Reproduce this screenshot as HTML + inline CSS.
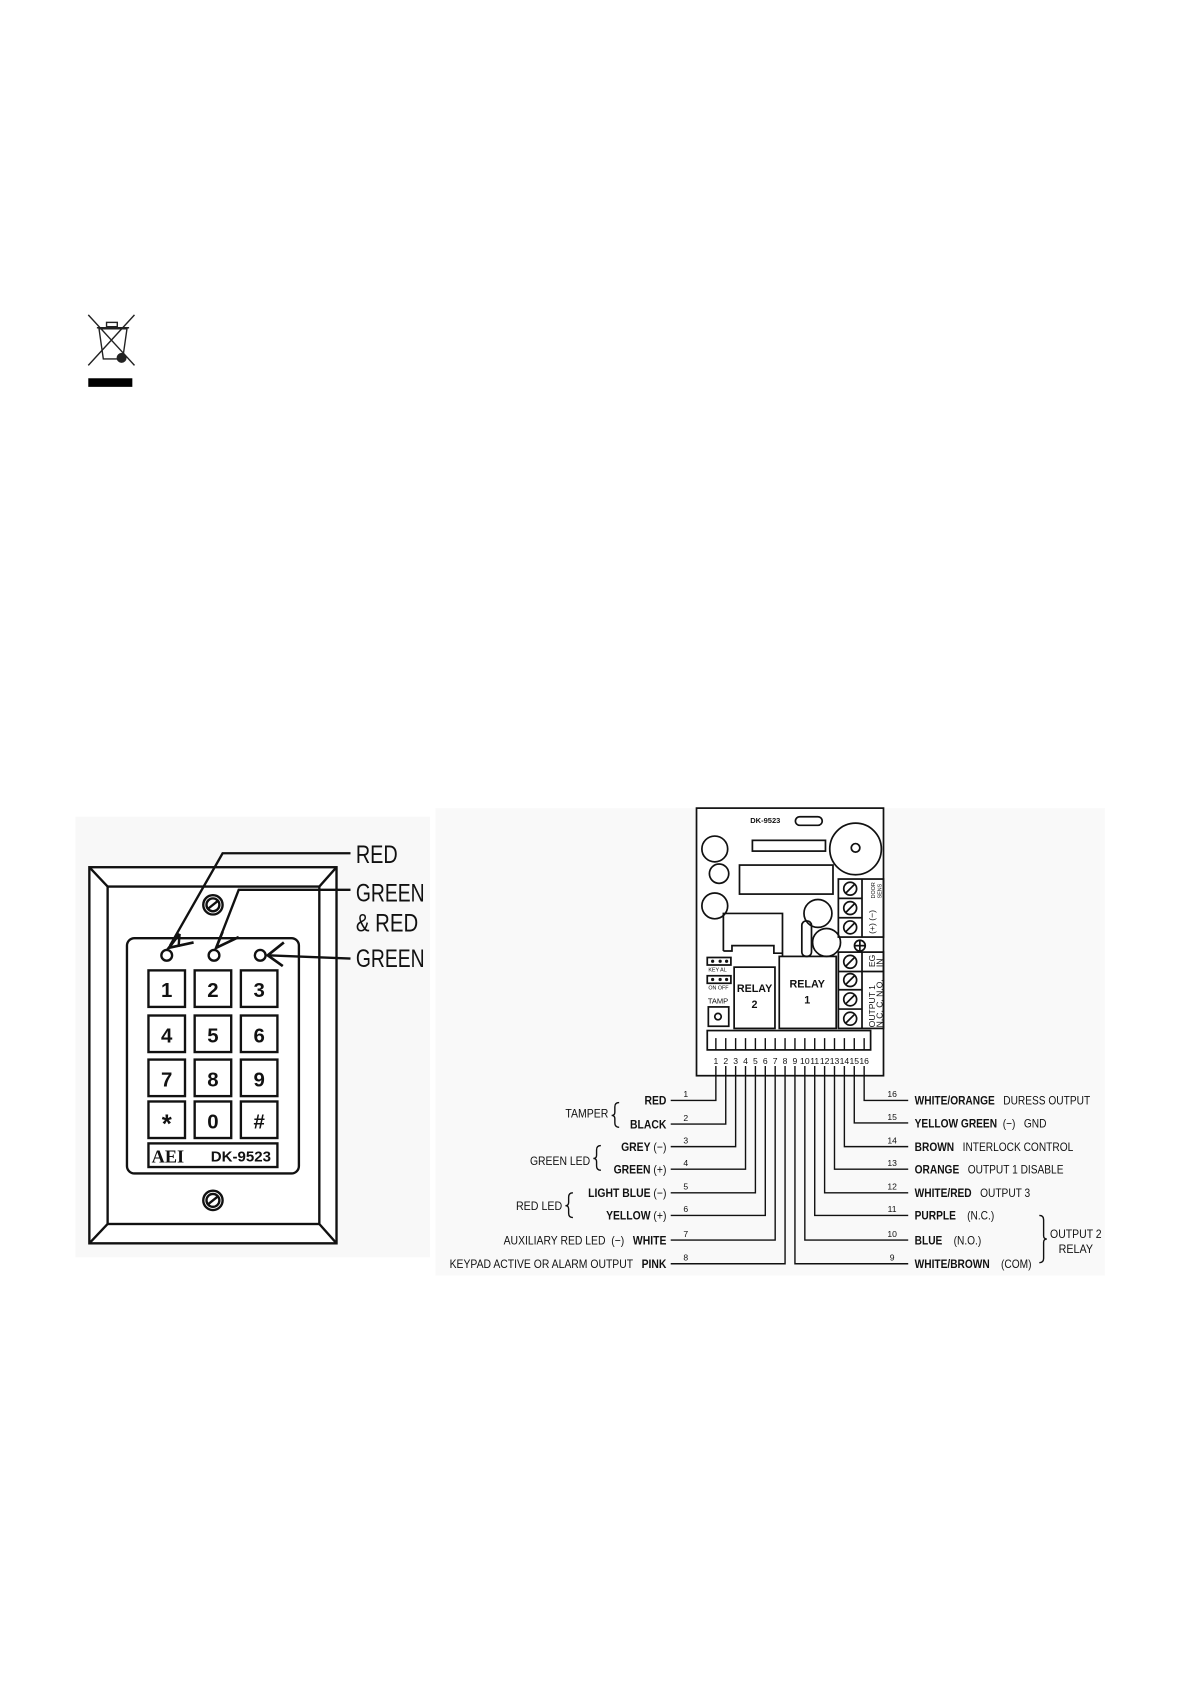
<!DOCTYPE html>
<html><head><meta charset="utf-8"><style>
html,body{margin:0;padding:0;background:#fff}
svg{display:block}
text{font-family:"Liberation Sans",sans-serif;fill:#111}
</style></head><body>
<svg width="1191" height="1685" viewBox="0 0 1108 1568" xmlns="http://www.w3.org/2000/svg">
<rect width="1108" height="1568" fill="#fff"/>
<!-- WEEE icon -->
<g stroke="#222" stroke-width="1.3" fill="none">
<line x1="82" y1="293" x2="125" y2="340"/><line x1="125" y1="293" x2="82" y2="340"/>
<path d="M92 306 L96 334 L114 334 L118 306 Z"/><line x1="90" y1="305" x2="120" y2="305"/>
<rect x="99" y="300" width="10" height="4"/>
<circle cx="113" cy="333" r="4" fill="#222"/>
</g>
<rect x="82" y="352" width="41" height="8" fill="#000"/>
<!-- keypad -->
<rect x="70" y="760" width="330" height="410" fill="#f8f8f8"/>
<g stroke="#111" stroke-width="2.2" fill="none">
<rect x="83" y="807" width="230" height="350" fill="#fff"/>
<rect x="100" y="825" width="197" height="314"/>
<line x1="83" y1="807" x2="100" y2="825"/><line x1="313" y1="807" x2="297" y2="825"/>
<line x1="83" y1="1157" x2="100" y2="1139"/><line x1="313" y1="1157" x2="297" y2="1139"/>
<rect x="118" y="873" width="160" height="219" rx="7"/>
<circle cx="198" cy="842" r="9"/><circle cx="198" cy="842" r="6"/>
<line x1="193" y1="846" x2="203" y2="838"/>
<circle cx="198" cy="1117" r="9"/><circle cx="198" cy="1117" r="6"/>
<line x1="193" y1="1121" x2="203" y2="1113"/>
<circle cx="155" cy="889" r="5"/><circle cx="199" cy="889" r="5"/><circle cx="242" cy="889" r="5"/>
<rect x="138" y="903" width="34" height="34"/><rect x="181" y="903" width="34" height="34"/><rect x="224" y="903" width="34" height="34"/>
<rect x="138" y="945" width="34" height="34"/><rect x="181" y="945" width="34" height="34"/><rect x="224" y="945" width="34" height="34"/>
<rect x="138" y="986" width="34" height="34"/><rect x="181" y="986" width="34" height="34"/><rect x="224" y="986" width="34" height="34"/>
<rect x="138" y="1025" width="34" height="34"/><rect x="181" y="1025" width="34" height="34"/><rect x="224" y="1025" width="34" height="34"/>
<rect x="138" y="1064" width="120" height="22"/>
<polyline points="326,794 207,794 158,880"/>
<polyline points="326,828 222,828 203,877"/>
<line x1="326" y1="892" x2="249" y2="889"/>
<polyline points="167,869 157,882 180,877" stroke-width="2.5"/>
<line x1="167" y1="869" x2="166" y2="881"/>
<polyline points="207,867 201,882 222,872" stroke-width="2.5"/>
<polyline points="264,877 249,889 263,899" stroke-width="2.5"/>
</g>
<g font-weight="bold" font-size="19" text-anchor="middle">
<text x="155" y="928">1</text><text x="198" y="928">2</text><text x="241" y="928">3</text>
<text x="155" y="970">4</text><text x="198" y="970">5</text><text x="241" y="970">6</text>
<text x="155" y="1011">7</text><text x="198" y="1011">8</text><text x="241" y="1011">9</text>
<text x="155" y="1054" font-size="24">*</text><text x="198" y="1050">0</text><text x="241" y="1050">#</text>
</g>
<text x="141" y="1082" font-weight="bold" font-size="17" style="font-family:'Liberation Serif',serif">AEI</text>
<text x="196" y="1081" font-weight="bold" font-size="14">DK-9523</text>
<g font-size="23">
<text x="331" y="803" textLength="39" lengthAdjust="spacingAndGlyphs">RED</text>
<text x="331" y="839" textLength="64" lengthAdjust="spacingAndGlyphs">GREEN</text>
<text x="331" y="867" textLength="58" lengthAdjust="spacingAndGlyphs">&amp; RED</text>
<text x="331" y="900" textLength="64" lengthAdjust="spacingAndGlyphs">GREEN</text>
</g>
<rect x="405" y="752" width="623" height="435" fill="#f9f9f9"/>
<!-- board -->
<g stroke="#111" stroke-width="1.6" fill="none">
<rect x="648" y="752" width="174" height="249" fill="#fff"/>
<rect x="740" y="760" width="25" height="8" rx="4"/>
<circle cx="665" cy="790" r="12"/><circle cx="669" cy="813" r="9"/><circle cx="665" cy="843" r="12"/>
<rect x="700" y="782" width="68" height="10"/><rect x="688" y="805" width="87" height="27"/>
<circle cx="796" cy="790" r="24"/><circle cx="796" cy="789" r="4"/>
<circle cx="761" cy="850" r="13"/><circle cx="769" cy="877" r="13"/>
<rect x="746" y="857" width="9" height="33" rx="4"/>
<polyline points="673,885 673,850 728,850 728,890"/>
<polyline points="673,885 681,885 681,880 720,880 720,887 728,887"/>
<rect x="683" y="900" width="38" height="57"/><rect x="725" y="890" width="53" height="67"/>
<rect x="780" y="818" width="42" height="54"/><line x1="802" y1="818" x2="802" y2="872"/>
<line x1="780" y1="836" x2="802" y2="836"/><line x1="780" y1="854" x2="802" y2="854"/>
<rect x="780" y="886" width="42" height="71"/><line x1="802" y1="886" x2="802" y2="957"/>
<line x1="780" y1="904" x2="822" y2="904"/><line x1="780" y1="921" x2="802" y2="921"/><line x1="780" y1="939" x2="802" y2="939"/>
<circle cx="791" cy="827" r="6"/><circle cx="791" cy="845" r="6"/><circle cx="791" cy="863" r="6"/>
<circle cx="791" cy="895" r="6"/><circle cx="791" cy="912" r="6"/><circle cx="791" cy="930" r="6"/><circle cx="791" cy="948" r="6"/>
<line x1="787" y1="831" x2="795" y2="823"/><line x1="787" y1="849" x2="795" y2="841"/><line x1="787" y1="867" x2="795" y2="859"/>
<line x1="787" y1="899" x2="795" y2="891"/><line x1="787" y1="916" x2="795" y2="908"/><line x1="787" y1="934" x2="795" y2="926"/><line x1="787" y1="952" x2="795" y2="944"/>
<circle cx="800" cy="880" r="5"/><line x1="795" y1="880" x2="805" y2="880"/><line x1="800" y1="875" x2="800" y2="885"/>
<rect x="658" y="891" width="22" height="7"/><rect x="658" y="908" width="22" height="7"/>
<rect x="659" y="937" width="19" height="18"/><circle cx="668" cy="946" r="3"/>
<rect x="658" y="959" width="152" height="18"/>
</g>
<g fill="#111"><circle cx="663" cy="894.5" r="1.5"/><circle cx="670" cy="894.5" r="1.5"/><circle cx="676" cy="894.5" r="1.5"/>
<circle cx="663" cy="911.5" r="1.5"/><circle cx="670" cy="911.5" r="1.5"/><circle cx="676" cy="911.5" r="1.5"/></g>
<text x="698" y="766" font-size="7" font-weight="bold">DK-9523</text>
<text x="702" y="923" font-size="10" font-weight="bold" text-anchor="middle">RELAY</text>
<text x="702" y="938" font-size="10" font-weight="bold" text-anchor="middle">2</text>
<text x="751" y="919" font-size="10" font-weight="bold" text-anchor="middle">RELAY</text>
<text x="751" y="934" font-size="10" font-weight="bold" text-anchor="middle">1</text>
<text x="668" y="934" font-size="7" text-anchor="middle">TAMP</text>
<text x="659" y="904" font-size="5">KEY  AL</text><text x="659" y="921" font-size="5">ON  OFF</text>
<g font-size="8">
<text transform="translate(814,900) rotate(-90)">EG</text><text transform="translate(821,900) rotate(-90)">IN</text>
<text transform="translate(814,956) rotate(-90)">OUTPUT  1</text><text transform="translate(821,956) rotate(-90)">N.C.  C.  N.O.</text>
<text transform="translate(814,869) rotate(-90)">(+)  (−)</text>
<text transform="translate(814,836) rotate(-90)" font-size="5">DOOR</text><text transform="translate(820,836) rotate(-90)" font-size="5">SENS</text>
</g>
<g stroke="#111" stroke-width="1.3" fill="none">
<path d="M666 966V977M675.2 966V977M684.4 966V977M693.6 966V977M702.8 966V977M712 966V977M721.2 966V977M730.4 966V977M739.6 966V977M748.8 966V977M758 966V977M767.2 966V977M776.4 966V977M785.6 966V977M794.8 966V977M804 966V977"/>
<polyline points="666,992 666,1024 624,1024"/>
<polyline points="675.2,992 675.2,1046 624,1046"/>
<polyline points="684.4,992 684.4,1067 624,1067"/>
<polyline points="693.6,992 693.6,1088 624,1088"/>
<polyline points="702.8,992 702.8,1110 624,1110"/>
<polyline points="712,992 712,1131 624,1131"/>
<polyline points="721.2,992 721.2,1154 624,1154"/>
<polyline points="730.4,992 730.4,1176 624,1176"/>
<polyline points="739.6,992 739.6,1176 845,1176"/>
<polyline points="748.8,992 748.8,1154 845,1154"/>
<polyline points="758,992 758,1131 845,1131"/>
<polyline points="767.2,992 767.2,1110 845,1110"/>
<polyline points="776.4,992 776.4,1088 845,1088"/>
<polyline points="785.6,992 785.6,1067 845,1067"/>
<polyline points="794.8,992 794.8,1045 845,1045"/>
<polyline points="804,992 804,1024 845,1024"/>
<path d="M576 1026 q-4 0 -4 4 v5 q0 3 -3 3 q3 0 3 3 v4 q0 4 4 4"/>
<path d="M559 1066 q-4 0 -4 4 v5 q0 3 -3 3 q3 0 3 3 v4 q0 4 4 4"/>
<path d="M533 1110 q-4 0 -4 4 v5 q0 3 -3 3 q3 0 3 3 v4 q0 4 4 4"/>
<path d="M967 1131 q4 0 4 4 v15 q0 3 3 3 q-3 0 -3 3 v15 q0 4 -4 4"/>
</g>
<g font-size="8" text-anchor="middle">
<text x="666" y="990">1</text><text x="675.2" y="990">2</text><text x="684.4" y="990">3</text><text x="693.6" y="990">4</text><text x="702.8" y="990">5</text><text x="712" y="990">6</text><text x="721.2" y="990">7</text><text x="730.4" y="990">8</text><text x="739.6" y="990">9</text><text x="748.8" y="990">10</text><text x="758" y="990">11</text><text x="767.2" y="990">12</text><text x="776.4" y="990">13</text><text x="785.6" y="990">14</text><text x="794.8" y="990">15</text><text x="804" y="990">16</text>
<text x="638" y="1021">1</text><text x="638" y="1043">2</text><text x="638" y="1064">3</text><text x="638" y="1085">4</text><text x="638" y="1107">5</text><text x="638" y="1128">6</text><text x="638" y="1151">7</text><text x="638" y="1173">8</text>
<text x="830" y="1021">16</text><text x="830" y="1042">15</text><text x="830" y="1064">14</text><text x="830" y="1085">13</text><text x="830" y="1107">12</text><text x="830" y="1128">11</text><text x="830" y="1151">10</text><text x="830" y="1173">9</text>
</g>
<g font-size="11" text-anchor="end" transform="translate(620,0) scale(0.88,1) translate(-620,0)">
<text x="620" y="1028" font-weight="bold">RED</text>
<text x="620" y="1050" font-weight="bold">BLACK</text>
<text x="620" y="1071"><tspan font-weight="bold">GREY</tspan>  (−)</text>
<text x="620" y="1092"><tspan font-weight="bold">GREEN</tspan>  (+)</text>
<text x="620" y="1114"><tspan font-weight="bold">LIGHT BLUE</tspan>  (−)</text>
<text x="620" y="1135"><tspan font-weight="bold">YELLOW</tspan>  (+)</text>
<text x="620" y="1158" xml:space="preserve">AUXILIARY RED LED  (−)   <tspan font-weight="bold">WHITE</tspan></text>
<text x="620" y="1180" xml:space="preserve">KEYPAD ACTIVE OR ALARM OUTPUT   <tspan font-weight="bold">PINK</tspan></text>
</g>
<g font-size="11" text-anchor="end">
<text x="566" y="1040" textLength="40" lengthAdjust="spacingAndGlyphs">TAMPER</text>
<text x="549" y="1084" textLength="56" lengthAdjust="spacingAndGlyphs">GREEN LED</text>
<text x="523" y="1126" textLength="43" lengthAdjust="spacingAndGlyphs">RED LED</text>
</g>
<g font-size="11" transform="translate(851,0) scale(0.86,1) translate(-851,0)">
<text x="851" y="1028" xml:space="preserve"><tspan font-weight="bold">WHITE/ORANGE</tspan>   DURESS OUTPUT</text>
<text x="851" y="1049" xml:space="preserve"><tspan font-weight="bold">YELLOW GREEN</tspan>  (−)   GND</text>
<text x="851" y="1071" xml:space="preserve"><tspan font-weight="bold">BROWN</tspan>   INTERLOCK CONTROL</text>
<text x="851" y="1092" xml:space="preserve"><tspan font-weight="bold">ORANGE</tspan>   OUTPUT 1 DISABLE</text>
<text x="851" y="1114" xml:space="preserve"><tspan font-weight="bold">WHITE/RED</tspan>   OUTPUT 3</text>
<text x="851" y="1135" xml:space="preserve"><tspan font-weight="bold">PURPLE</tspan>    (N.C.)</text>
<text x="851" y="1158" xml:space="preserve"><tspan font-weight="bold">BLUE</tspan>    (N.O.)</text>
<text x="851" y="1180" xml:space="preserve"><tspan font-weight="bold">WHITE/BROWN</tspan>    (COM)</text>
</g>
<g font-size="11" text-anchor="middle">
<text x="1001" y="1152" textLength="48" lengthAdjust="spacingAndGlyphs">OUTPUT 2</text>
<text x="1001" y="1166" textLength="32" lengthAdjust="spacingAndGlyphs">RELAY</text>
</g>
</svg>
</body></html>
